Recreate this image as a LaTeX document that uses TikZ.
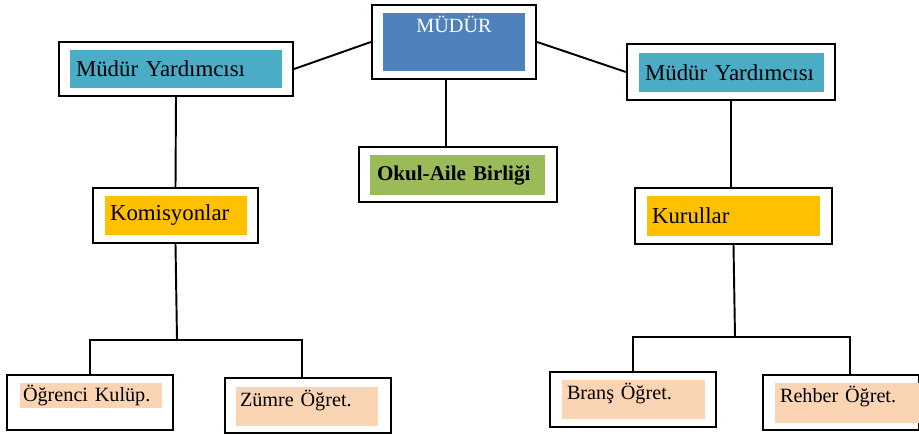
\documentclass[tikz,border=0pt]{standalone}
\usepackage{fontspec}
\setmainfont{Liberation Serif}
\usepackage{xcolor}
\usepackage{tikz}
\usetikzlibrary{positioning}

\definecolor{chefblue}{HTML}{4F81BD}
\definecolor{aqua}{HTML}{4BACC6}
\definecolor{parentgreen}{HTML}{9BBB59}
\definecolor{goldband}{HTML}{FFC000}
\definecolor{peach}{HTML}{FBD4B4}

\newcommand{\bigtxt}{\fontsize{13}{15}\selectfont}
\newcommand{\smalltxt}{\fontsize{11.5}{13}\selectfont}

\begin{document}
\begin{tikzpicture}[x=0.02cm,y=-0.02cm]
\tikzstyle{frame}=[draw,line width=1.3pt,inner sep=0pt]
\tikzstyle{band}=[inner xsep=0.12cm,inner ysep=0pt,align=left]
\tikzstyle{link}=[line width=1.1pt]

\useasboundingbox (0,0) rectangle (919,435);

% outer frames
\node[frame,minimum width=3.28cm,minimum height=1.48cm] (mudur) at (454,42) {};
\node[frame,minimum width=4.68cm,minimum height=1.08cm] (ymL) at (176,69) {};
\node[frame,minimum width=4.16cm,minimum height=1.12cm] (ymR) at (731,72) {};
\node[frame,minimum width=3.96cm,minimum height=1.10cm] (okul) at (458,174.5) {};
\node[frame,minimum width=3.30cm,minimum height=1.10cm] (komis) at (175.5,215.5) {};
\node[frame,minimum width=3.94cm,minimum height=1.12cm] (kurul) at (733.5,216) {};
\node[frame,minimum width=3.32cm,minimum height=1.10cm] (ogr) at (90,402.5) {};
\node[frame,minimum width=3.32cm,minimum height=1.10cm] (zumre) at (308,405.5) {};
\node[frame,minimum width=3.32cm,minimum height=1.10cm] (brans) at (633,399.5) {};
\node[frame,minimum width=3.12cm,minimum height=1.10cm] (rehber) at (841,402.5) {};

% coloured bands
\node[band,fill=chefblue,text=white,align=center,minimum width=2.84cm,minimum height=1.16cm,
  text width=2.6cm,text depth=0.69cm,font=\smalltxt] (mudur-in) at (454,42) {MÜDÜR};
\node[band,fill=aqua,minimum height=0.76cm,text width=4.0cm,font=\bigtxt] (ymL-in) at (176,69) {Müdür Yardımcısı};
\node[band,fill=aqua,minimum height=0.78cm,text width=3.46cm,font=\bigtxt] (ymR-in) at (731.5,72.5) {Müdür Yardımcısı};
\node[band,fill=parentgreen,inner xsep=0.14cm,minimum height=0.80cm,text width=3.22cm,
  font=\bfseries\fontsize{12}{14}\selectfont] (okul-in) at (457.5,175) {Okul-Aile Birliği};
\node[band,fill=goldband,inner xsep=0.1cm,minimum height=0.78cm,text width=2.64cm,font=\bigtxt] (komis-in) at (176,215.5) {Komisyonlar};
\node[band,fill=goldband,inner xsep=0.1cm,minimum height=0.80cm,text width=3.26cm,font=\bigtxt] (kurul-in) at (733.5,216) {Kurullar};
\node[band,fill=peach,inner xsep=0.06cm,minimum height=0.50cm,text width=2.72cm,font=\smalltxt] (ogr-in) at (91,395.5) {Öğrenci Kulüp.};
\node[band,fill=peach,inner xsep=0.08cm,minimum height=0.78cm,text width=2.68cm,
  text depth=0.33cm,font=\smalltxt] (zumre-in) at (307,406.5) {Zümre Öğret.};
\node[band,fill=peach,inner xsep=0.1cm,minimum height=0.78cm,text width=2.66cm,
  text depth=0.33cm,font=\smalltxt] (brans-in) at (633.5,399.5) {Branş Öğret.};
\node[band,fill=peach,inner xsep=0.1cm,minimum height=0.80cm,text width=2.68cm,
  text depth=0.33cm,font=\smalltxt] (rehber-in) at (847,403) {Rehber Öğret.};

% junctions
\coordinate (kj) at (177,340);
\coordinate (rj) at (735,337);

% connectors
\draw[link] (mudur.west) -- (ymL.east);
\draw[link] (mudur.east) -- (ymR.west);
\draw[link] ([xshift=-0.16cm]mudur.south) -- ([xshift=-0.24cm]okul.north);
\draw[link] (ymL.south) -- (komis.north);
\draw[link] (ymR.south) -- (ymR.south |- kurul.north);
\draw[link] (komis.south) -- (kj);
\draw[link] (ogr.north) |- (kj) -| ([xshift=-0.12cm]zumre.north);
\draw[link] (kurul.south) -- (rj);
\draw[link] (brans.north) |- (rj) -| ([xshift=0.18cm]rehber.north);
\end{tikzpicture}
\end{document}
